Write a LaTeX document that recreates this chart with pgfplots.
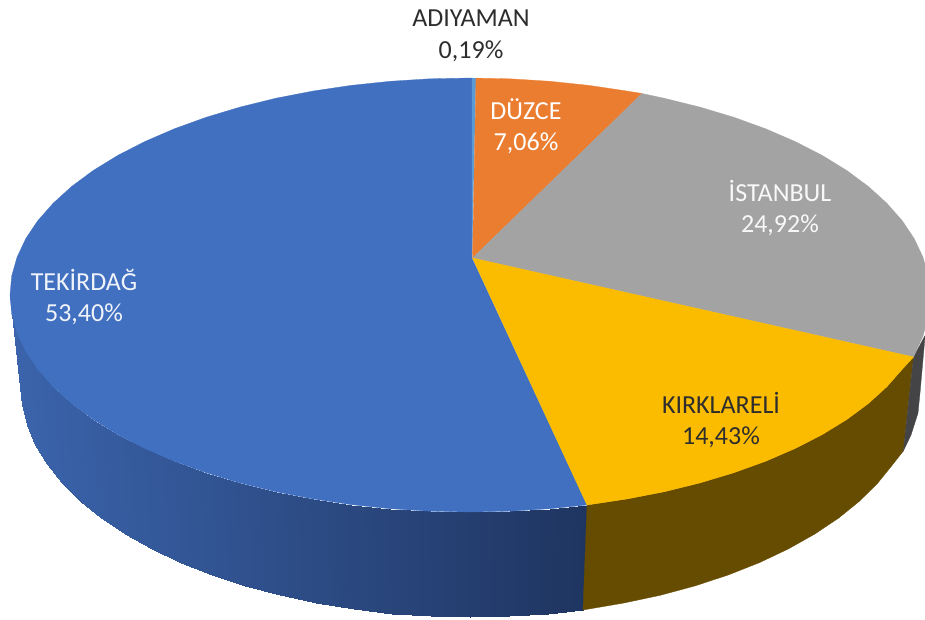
\documentclass[border=0pt]{standalone}
\usepackage{pgfplots}
\pgfplotsset{compat=1.18}
\usepackage{fontspec}
\setmainfont{Carlito}
\definecolor{tekblue}{RGB}{65,112,192}
\definecolor{adiblue}{RGB}{91,155,213}
\definecolor{duzorange}{RGB}{235,125,49}
\definecolor{istgray}{RGB}{163,163,163}
\definecolor{kiryellow}{RGB}{251,188,0}
\definecolor{kirside}{RGB}{101,76,0}
\definecolor{istside}{RGB}{68,68,70}
\definecolor{darktext}{RGB}{45,45,45}
\pgfplotsset{colormap={tekside}{rgb255=(31,53,97) rgb255=(59,100,172)}}
\begin{document}
\begin{tikzpicture}
\path[use as bounding box] (0,0) rectangle (925pt,619pt);
\begin{axis}[at={(0,0)},anchor=south west,width=925pt,height=619pt,scale only axis,hide axis,
  xmin=0,xmax=925,ymin=0,ymax=619,y dir=reverse,
  point meta min=0,point meta max=1,colormap name=tekside]
% side walls
\addplot[surf,shader=interp,mesh/rows=2,point meta=explicit] coordinates {
(587,505) [0] (549.9,508.7) [.06] (510.1,511.2) [.127] (470,512) [.197] (429.9,511.2) [.267]
(390.1,508.7) [.337] (351,504.6) [.405] (312.7,498.9) [.472] (275.6,491.7) [.536] (240,482.9) [.598]
(206.1,472.7) [.658] (174.3,461.2) [.713] (144.7,448.4) [.765] (117.6,434.5) [.812] (93.2,419.5) [.855]
(71.6,403.5) [.892] (53.1,386.7) [.925] (37.7,369.2) [.952] (25.7,351.2) [.973] (17,332.7) [.988]
(11.7,313.9) [.997] (10,295) [1]

(583,610) [0] (548.1,613.5) [.06] (509.2,616.1) [.127] (470,617) [.197] (430.8,616.1) [.267]
(391.9,613.5) [.337] (353.5,609.1) [.405] (316.1,603) [.472] (279.8,595.3) [.536] (245,585.9) [.598]
(211.9,575) [.658] (180.7,562.7) [.713] (151.8,549) [.765] (125.3,534.1) [.812] (101.4,518.1) [.855]
(80.3,501) [.892] (62.2,483) [.925] (47.1,464.3) [.952] (35.3,445) [.973] (26.8,425.3) [.988]
(21.7,405.2) [.997] (20,385) [1]
};
\addplot[fill=kirside,draw=kirside,line width=.3pt] coordinates {
(913.5,357) (902.3,369.2) (886.9,386.7) (868.4,403.5) (846.8,419.5) (822.4,434.5) (795.3,448.4)
(765.7,461.2) (733.9,472.7) (700,482.9) (664.4,491.7) (627.3,498.9) (587,505) (583,610)
(623.9,603) (660.2,595.3) (695,585.9) (728.1,575) (759.3,562.7) (788.2,549) (814.7,534.1)
(838.6,518.1) (859.7,501) (877.8,483) (892.9,464.3) (903.3,451)
} -- cycle;
\addplot[fill=istside,draw=istside,line width=.3pt] coordinates {
(913.5,357) (903.3,451) (911,435) (918,413) (920,393) (925,337) (928,330)
} -- cycle;
% top face
\addplot[fill=tekblue,draw=tekblue,line width=.3pt] coordinates {
(472,258) (587,505) (549.9,508.7) (510.1,511.2) (470,512) (429.9,511.2) (390.1,508.7) (351,504.6)
(312.7,498.9) (275.6,491.7) (240,482.9) (206.1,472.7) (174.3,461.2) (144.7,448.4) (117.6,434.5)
(93.2,419.5) (71.6,403.5) (53.1,386.7) (37.7,369.2) (25.7,351.2) (17,332.7) (11.7,313.9) (10,295)
(11.7,276.1) (17,257.3) (25.7,238.8) (37.7,220.8) (53.1,203.3) (71.6,186.5) (93.2,170.5)
(117.6,155.5) (144.7,141.6) (174.3,128.8) (206.1,117.3) (240,107.1) (275.6,98.3) (312.7,91.1)
(351,85.4) (390.1,81.3) (429.9,78.8) (472,78)
} -- cycle;
\addplot[fill=adiblue,draw=adiblue,line width=.1pt] coordinates {(472,258) (472,78) (476,78.1)} -- cycle;
\addplot[fill=duzorange,draw=duzorange,line width=.3pt] coordinates {
(472.5,258) (476,78.1) (510.1,78.8) (549.9,81.3) (589,85.4) (627.3,91.1) (642,93.5)
} -- cycle;
\addplot[fill=istgray,draw=istgray,line width=.3pt] coordinates {
(472.5,258) (642,93.5) (664.4,98.3) (700,107.1) (733.9,117.3) (765.7,128.8) (795.3,141.6)
(822.4,155.5) (846.8,170.5) (868.4,186.5) (886.9,203.3) (902.3,220.8) (914.3,238.8) (923,257.3)
(928.3,276.1) (930,295) (928.3,316) (923,336) (913.5,357)
} -- cycle;
\addplot[fill=kiryellow,draw=kiryellow,line width=.3pt] coordinates {
(472.5,258) (913.5,357) (902.3,369.2) (886.9,386.7) (868.4,403.5) (846.8,419.5) (822.4,434.5)
(795.3,448.4) (765.7,461.2) (733.9,472.7) (700,482.9) (664.4,491.7) (627.3,498.9) (587,505)
} -- cycle;
% labels
\tikzset{lab/.style={align=center,font=\fontsize{26}{31.5}\selectfont,inner sep=0pt}}
\node[lab,text=darktext] at (axis cs:471,36) {ADIYAMAN\\0,19\%};
\node[lab,text=white] at (axis cs:526,126) {DÜZCE\\7,06\%};
\node[lab,text=white!92!istgray] at (axis cs:780,208) {İSTANBUL\\24,92\%};
\node[lab,text=darktext] at (axis cs:721,420) {KIRKLARELİ\\14,43\%};
\node[lab,text=white!92!tekblue] at (axis cs:84,297) {TEKİRDAĞ\\53,40\%};
\end{axis}
\end{tikzpicture}
\end{document}
